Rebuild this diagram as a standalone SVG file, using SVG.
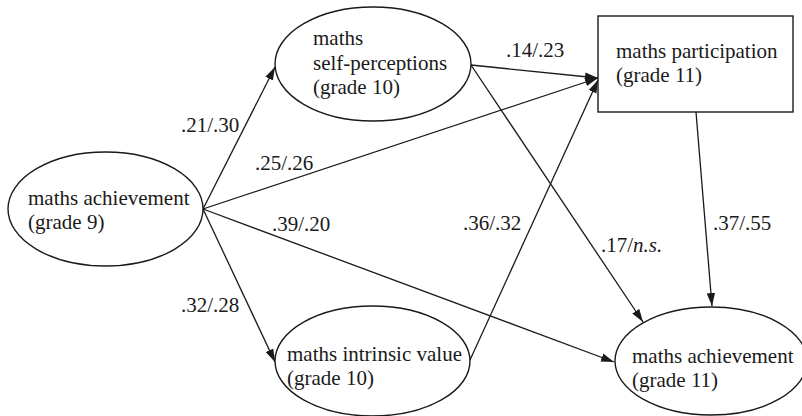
<svg xmlns="http://www.w3.org/2000/svg" width="802" height="416" viewBox="0 0 802 416">
<style>
.n{fill:#fff;stroke:#1a1a1a;stroke-width:1.4}
.t{font-family:"Liberation Serif","Times New Roman",serif;font-size:21px;fill:#1a1a1a}
.e{fill:none;stroke:#1a1a1a;stroke-width:1.3}
</style>
<defs>
<marker id="ah" markerUnits="userSpaceOnUse" markerWidth="14" markerHeight="10" refX="13" refY="5" orient="auto">
<path d="M0,0.8 L13,5 L0,9.2 Z" fill="#1a1a1a"/>
</marker>
</defs>
<rect width="802" height="416" fill="#fff"/>
<g id="connectors">
<line class="e" x1="203" y1="209" x2="275" y2="67" marker-end="url(#ah)"/>
<line class="e" x1="203" y1="209" x2="598" y2="78" marker-end="url(#ah)"/>
<line class="e" x1="203" y1="209" x2="614" y2="362" marker-end="url(#ah)"/>
<line class="e" x1="203" y1="209" x2="275" y2="362" marker-end="url(#ah)"/>
<line class="e" x1="471" y1="65" x2="598" y2="78" marker-end="url(#ah)"/>
<line class="e" x1="471" y1="65" x2="643" y2="322" marker-end="url(#ah)"/>
<line class="e" x1="470" y1="360" x2="598" y2="80" marker-end="url(#ah)"/>
<line class="e" x1="696" y1="112" x2="712" y2="306" marker-end="url(#ah)"/>
</g>
<g id="labels">
<text class="t" x="181" y="132">.21/.30</text>
<text class="t" x="255" y="170">.25/.26</text>
<text class="t" x="272" y="231">.39/.20</text>
<text class="t" x="181" y="312">.32/.28</text>
<text class="t" x="506" y="57">.14/.23</text>
<text class="t" x="463" y="230">.36/.32</text>
<text class="t" x="601" y="252">.17/<tspan font-style="italic">n.s.</tspan></text>
<text class="t" x="713" y="230">.37/.55</text>
</g>
<g id="ach9">
<ellipse class="n" cx="105.5" cy="209" rx="97.5" ry="57"/>
<text class="t" x="28" y="205">maths achievement</text>
<text class="t" x="28" y="229">(grade 9)</text>
</g>
<g id="selfperc">
<ellipse class="n" cx="373" cy="64" rx="98" ry="57"/>
<text class="t" x="313" y="45">maths</text>
<text class="t" x="313" y="70">self-perceptions</text>
<text class="t" x="313" y="94">(grade 10)</text>
</g>
<g id="particip">
<rect class="n" x="598" y="16" width="195" height="96"/>
<text class="t" x="616" y="58">maths participation</text>
<text class="t" x="616" y="82">(grade 11)</text>
</g>
<g id="intrinsic">
<ellipse class="n" cx="372.5" cy="361" rx="97.5" ry="55"/>
<text class="t" x="287" y="361">maths intrinsic value</text>
<text class="t" x="287" y="385">(grade 10)</text>
</g>
<g id="ach11">
<ellipse class="n" cx="711" cy="361" rx="96" ry="54"/>
<text class="t" x="632" y="363">maths achievement</text>
<text class="t" x="632" y="387">(grade 11)</text>
</g>
</svg>
